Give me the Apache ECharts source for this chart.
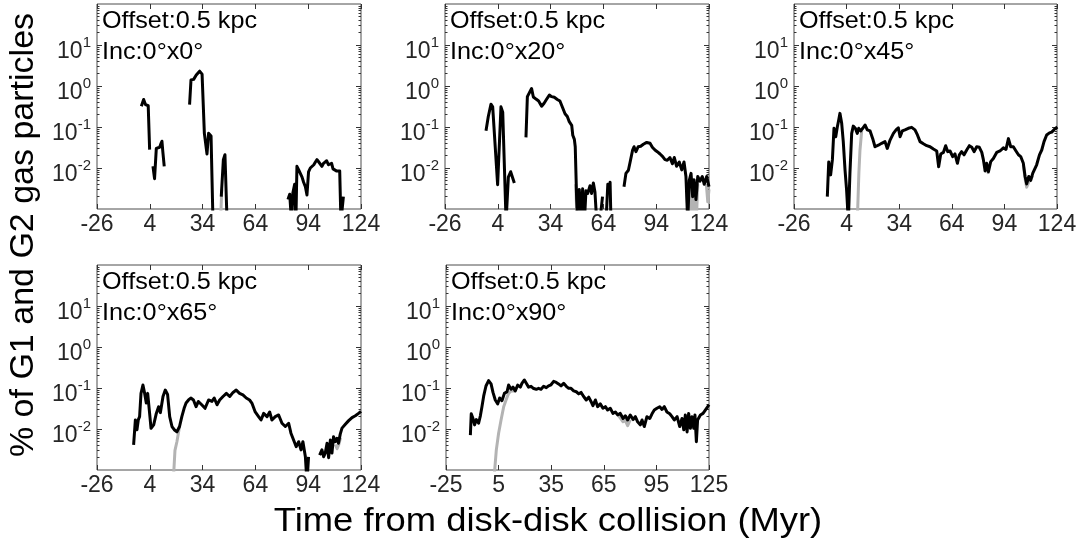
<!DOCTYPE html>
<html>
<head>
<meta charset="utf-8">
<script src="https://cdn.jsdelivr.net/npm/echarts@6/dist/echarts.min.js"></script>
<style>
html,body{margin:0;padding:0;background:#ffffff;}
#chart{width:1081px;height:543px;}
</style>
</head>
<body>
<div id="chart"></div>
<script>
// ---------------- data ----------------
const xTicksA = [-26, 4, 34, 64, 94, 124];
const xTicksB = [-25, 5, 35, 65, 95, 125];
const yMajorTicks = [0.01, 0.1, 1, 10];
const yMinorTicks = [0.002,0.003,0.004,0.005,0.006,0.007,0.008,0.009,
  0.02,0.03,0.04,0.05,0.06,0.07,0.08,0.09,
  0.2,0.3,0.4,0.5,0.6,0.7,0.8,0.9,
  2,3,4,5,6,7,8,9,
  20,30,40,50,60,70,80,90];
const offsetText = 'Offset:0.5 kpc';
const incTexts = ['Inc:0°x0°', 'Inc:0°x20°', 'Inc:0°x45°', 'Inc:0°x65°', 'Inc:0°x90°'];
const xTitle = 'Time from disk-disk collision (Myr)';
const yTitle = '% of G1 and G2 gas particles';

// [time (Myr), percent]; null = gap
const inc0Black = [
  [-0.8,0.32],[0.5,0.47],[1.6,0.35],[2.4,0.39],[3.1,0.33],[3.9,0.028], null,
  [5.8,0.011],[6.7,0.0055],[7.7,0.03],[8.6,0.027],[9.6,0.032],[10.4,0.04],[10.9,0.045],[11.4,0.025],[12.2,0.011], null,
  [26.6,0.35],[27.4,1.4],[28.9,1.45],[30.4,1.86],[32.3,2.3],[33.7,1.95],[35,0.07],[36.5,0.022],[37.4,0.07],[38.8,0.06],[39.9,0.0005], null,
  [44.6,0.002],[45.8,0.016],[46.7,0.021],[47.9,0.0005], null,
  [82.5,0.0017],[83.5,0.0023],[84.5,0.0005],[85.3,0.0025],[86.3,0.004],[87,0.0005],[87.6,0.011],[88.6,0.009],[89.6,0.01],
  [90.5,0.006],[91.4,0.0045],[92.4,0.0035],[93.3,0.0022],[94.2,0.008],[95.2,0.01],[96.2,0.011],[97.2,0.012],[98.1,0.014],
  [99,0.016],[100,0.014],[101,0.013],[101.8,0.011],[102.7,0.013],[103.6,0.012],[104.5,0.015],[105.5,0.012],[106.4,0.011],
  [107.3,0.013],[108.1,0.0095],[109,0.0105],[110,0.0085],[111,0.009],[111.9,0.0085],[112.6,0.0005],[114,0.002]
];
const inc0Gray = [
  [44.2,0.0005],[44.9,0.003]
];

const inc20Black = [
  [-2.7,0.081],[-1.4,0.18],[0.1,0.36],[1.1,0.31],[3.9,0.0039],[5.8,0.31],[6.8,0.23],[8.7,0.0005],[10,0.006],[11.3,0.0081],[12.2,0.0073],[13.4,0.0043], null,
  [20,0.056],[20.8,0.55],[21.9,0.57],[23.2,0.87],[24.2,0.54],[25.7,0.48],[27.2,0.43],[28.9,0.32],[30.3,0.38],[31.8,0.48],
  [33.3,0.6],[34.6,0.55],[36.1,0.53],[37.8,0.47],[39.3,0.43],[40.9,0.29],[42.2,0.21],[43.5,0.18],[44.6,0.135],[46,0.11],
  [46.6,0.063],[47.5,0.05],[48,0.033],[48.8,0.0017],[49.4,0.0005],[50.3,0.003],[51.3,0.0005],[52.2,0.0031],[53.2,0.0005],
  [54.1,0.0028],[55.1,0.0024],[56.4,0.0037],[57.3,0.0024],[58.3,0.0043],[59.2,0.0026],[60.2,0.0005], null,
  [62,0.0005],[63.5,0.002], null,
  [65.5,0.0005],[66.5,0.004],[67.2,0.0025],[67.8,0.0045],[68.3,0.0005], null,
  [75.7,0.0035],[76.8,0.0074],[78.2,0.0088],[79.1,0.0134],[80.1,0.013],[80.6,0.0275],[81.4,0.033],[82.5,0.025],[83.8,0.033],
  [85.2,0.034],[86.7,0.038],[88.6,0.042],[90.5,0.04],[91.8,0.032],[93.3,0.0275],[94.6,0.025],[96.2,0.022],[97.7,0.019],
  [99,0.016],[100.3,0.0155],[101.8,0.018],[103.2,0.0127],[104.3,0.018],[105.6,0.011],[107.1,0.014],[108.5,0.009],[109.8,0.014],
  [110.9,0.0062],[111.9,0.0005],[112.8,0.005],[113.8,0.0074],[114.7,0.002],[115.5,0.0052],[116.6,0.0017],[117.6,0.0062],
  [118.9,0.0048],[120.2,0.0062],[121.3,0.004],[122.7,0.0062],[124,0.0035]
];
const inc20Gray = [
  [48.3,0.004],[49,0.0005], null,
  [111.2,0.004],[112.3,0.0005],[113.3,0.003],[114.8,0.0005],[115.8,0.003],[116.8,0.0005],[117.6,0.004], null,
  [122.5,0.004],[123.3,0.0015],[124,0.003]
];

const inc45Black = [
  [-7,0.002],[-6.2,0.014],[-5.1,0.0068],[-4.1,0.016],[-3.2,0.093],[-2.2,0.058],[-1.3,0.1],[-0.5,0.148],[0.2,0.215],[1.2,0.123],
  [2.1,0.044],[3.1,0.009],[4,0.0029],[5,0.0005],[5.9,0.0075],[6.9,0.07],[7.8,0.105],[9,0.093],[10.1,0.07],[10.9,0.093],[12,0.08],
  [13.2,0.093],[14.5,0.112],[15.8,0.085],[17.4,0.08],[18.9,0.052],[20.2,0.033],[22.1,0.036],[24,0.04],[25.9,0.044],[27.2,0.03],
  [28.8,0.048],[30.7,0.07],[32.2,0.085],[33.5,0.096],[34.5,0.058],[35.8,0.08],[37.3,0.085],[39.2,0.093],[41.1,0.098],[43,0.085],
  [44.4,0.064],[45.9,0.044],[47.8,0.039],[49.7,0.035],[51.6,0.033],[53.5,0.029],[55.4,0.026],[56.5,0.0107],[57.7,0.022],[59.2,0.024],
  [60.5,0.035],[61.7,0.025],[63,0.026],[64.5,0.019],[65.8,0.022],[67.2,0.013],[68.3,0.021],[69.6,0.025],[71,0.021],[72.5,0.0275],
  [74,0.035],[75.4,0.032],[76.7,0.025],[78.2,0.033],[79.7,0.032],[81.1,0.024],[82,0.016],[83,0.0085],[83.9,0.013],[84.9,0.0081],
  [86.2,0.0143],[87.7,0.017],[89.6,0.024],[91.5,0.026],[93.4,0.031],[94.9,0.0285],[96.3,0.052],[97.6,0.033],[99.1,0.033],
  [100.6,0.026],[102,0.021],[103.3,0.019],[104.8,0.013],[105.8,0.0062],[106.7,0.0041],[107.9,0.0062],[109,0.005],[110.2,0.0075],
  [111.1,0.0068],[112.4,0.012],[114,0.021],[115.3,0.0275],[116.6,0.044],[118.1,0.064],[119.7,0.072],[121,0.075],[122.3,0.086],[124.2,0.1]
];
const inc45Gray = [
  [10.1,0.0005],[11,0.0075],[11.6,0.026],[12.6,0.08], null,
  [82.8,0.008],[83.9,0.011],[84.9,0.0072], null,
  [104.8,0.012],[105.8,0.0055],[106.7,0.0034],[107.9,0.0045],[109,0.0042],[110.2,0.0065]
];

const inc65Black = [
  [-5.2,0.0041],[-4.2,0.0166],[-3.3,0.0096],[-2.5,0.017],[-1.8,0.02],[-1,0.074],[0.1,0.118],[0.9,0.081],[2,0.043],[2.8,0.074],
  [3.9,0.024],[4.7,0.0104],[6.2,0.0126],[7.7,0.024],[9,0.035],[10,0.025],[11.5,0.062],[12.8,0.089],[14.1,0.07],[15.3,0.02],
  [16.6,0.0115],[17.9,0.0096],[19.4,0.0085],[20.9,0.0115],[22.2,0.02],[23.5,0.032],[24.6,0.043],[26,0.051],[27.3,0.057],
  [28.8,0.051],[30.3,0.035],[31.6,0.047],[33.5,0.039],[35.4,0.032],[37.4,0.051],[39.3,0.047],[40.6,0.057],[42.2,0.039],
  [43.7,0.051],[45.6,0.062],[47.5,0.074],[49.4,0.062],[51.3,0.078],[53.1,0.089],[55,0.074],[56.9,0.068],[58.8,0.057],
  [60.7,0.051],[62,0.043],[63.9,0.026],[65.8,0.02],[67.2,0.0166],[68.7,0.024],[70.6,0.02],[72.1,0.026],[73.4,0.0166],
  [75.3,0.02],[77.2,0.022],[79.1,0.0138],[81,0.0115],[82.9,0.0138],[84.2,0.0079],[85.7,0.0054],[87.2,0.0037],[88.6,0.0049],
  [89.9,0.0031],[91,0.0049],[92.4,0.0021],[93.3,0.0005],[94.2,0.0021], null,
  [100.5,0.0023],[101.8,0.0031],[102.8,0.0021],[103.7,0.0026],[104.7,0.0045],[105.6,0.002],[106.6,0.0054],[107.5,0.0026],
  [108.4,0.0065],[109.4,0.0049],[110.3,0.0059],[111.2,0.0045],[112.2,0.0075],[113.2,0.0105],[115.1,0.013],[117,0.016],
  [118.9,0.019],[120.8,0.021],[122.6,0.024],[124,0.027]
];
const inc65Gray = [
  [17.3,0.0005],[18.3,0.003],[19.4,0.0049],[20.9,0.0115], null,
  [109.4,0.0042],[110.4,0.0033],[111.4,0.0042],[112.4,0.0062]
];

const inc90Black = [
  [-11.1,0.0071],[-10.6,0.0235],[-9.6,0.018],[-8.7,0.0126],[-7.7,0.017],[-6.4,0.0138],[-5.4,0.021],[-4.5,0.035],[-3.5,0.064],
  [-2.2,0.112],[-0.7,0.151],[0.7,0.126],[1.8,0.078],[3.1,0.051],[4.5,0.041],[5.6,0.057],[6.9,0.049],[8.3,0.074],[9.8,0.081],
  [10.7,0.118],[12.1,0.093],[13.2,0.105],[14.5,0.085],[15.9,0.118],[17.4,0.105],[18.3,0.13],[19.7,0.157],[20.8,0.13],[22.1,0.105],
  [23.5,0.11],[25,0.097],[26.5,0.093],[27.8,0.098],[29.2,0.093],[30.7,0.11],[32.2,0.102],[33.5,0.113],[34.9,0.12],[36.4,0.145],
  [37.9,0.137],[39.2,0.126],[40.6,0.113],[42.1,0.13],[43.6,0.11],[45,0.098],[46.3,0.098],[47.8,0.085],[49.3,0.081],[50.7,0.072],
  [52,0.078],[53.5,0.062],[55,0.051],[56.4,0.06],[57.7,0.047],[58.8,0.037],[60.2,0.051],[61.5,0.035],[63,0.041],[64.5,0.032],
  [65.9,0.035],[67.2,0.029],[68.7,0.032],[70.2,0.024],[71.6,0.026],[72.9,0.022],[74.4,0.024],[76,0.018],[77.3,0.021],[78.6,0.0166],
  [80.1,0.022],[81.7,0.017],[83,0.02],[84.3,0.015],[85.8,0.0126],[86.8,0.0166],[88.1,0.0115],[89.6,0.02],[91.2,0.018],[92.5,0.0235],
  [93.8,0.029],[95.3,0.032],[96.9,0.035],[98.2,0.03],[99.5,0.035],[101,0.026],[102.6,0.0235],[103.9,0.02],[105.2,0.0166],[106.8,0.02],
  [108.3,0.0115],[109.6,0.018],[110.6,0.0096],[111.5,0.022],[112.5,0.0085],[113.4,0.024],[114.4,0.0104],[115.3,0.02],[116.3,0.0104],
  [117,0.022],[117.8,0.0049],[118.5,0.0166],[120.1,0.022],[121.6,0.024],[122.9,0.029],[125,0.039]
];
const inc90Gray = [
  [2.2,0.0005],[3.7,0.0031],[5,0.0079],[6.4,0.0166],[7.9,0.035],[9.4,0.053],[10.7,0.074],[12.1,0.085],[13.2,0.095],[14.5,0.085], null,
  [73.5,0.021],[74.4,0.02],[76,0.015],[77.3,0.016],[78.6,0.012],[80.1,0.017]
];

// ---------------- layout / styling ----------------
const FONT = '"Liberation Sans", Arial, Helvetica, sans-serif';
const panels = [
  {left: 97,  top: 4,   w: 264, h: 205, ticks: xTicksA, black: inc0Black,  gray: inc0Gray},
  {left: 445, top: 4,   w: 264, h: 205, ticks: xTicksA, black: inc20Black, gray: inc20Gray},
  {left: 794, top: 4,   w: 263, h: 205, ticks: xTicksA, black: inc45Black, gray: inc45Gray},
  {left: 97,  top: 265, w: 264, h: 205, ticks: xTicksA, black: inc65Black, gray: inc65Gray},
  {left: 446, top: 265, w: 263, h: 205, ticks: xTicksB, black: inc90Black, gray: inc90Gray}
];

function toData(arr) {
  return arr.map(p => p === null ? ['-', '-'] : p);
}

const tickColor = '#333333';
const labelColor = '#262626';
const grid = [], xAxis = [], yAxis = [], series = [], graphic = [];

panels.forEach((p, i) => {
  grid.push({left: p.left, top: p.top, width: p.w, height: p.h, show: true,
    borderColor: '#4d4d4d', borderWidth: 1, backgroundColor: '#ffffff'});
  const xmin = p.ticks[0], xmax = p.ticks[p.ticks.length - 1];
  const majorTick = (vals) => ({show: true, inside: true, length: 5, customValues: vals,
    lineStyle: {color: tickColor, width: 1}});
  const minorTick = (vals) => ({show: true, inside: true, length: 2.5, customValues: vals,
    lineStyle: {color: tickColor, width: 1}});
  // bottom x
  xAxis.push({gridIndex: i, type: 'value', min: xmin, max: xmax, position: 'bottom',
    axisLine: {show: false, onZero: false}, splitLine: {show: false},
    axisTick: majorTick(p.ticks),
    axisLabel: {customValues: p.ticks, fontSize: 23, color: labelColor, fontFamily: FONT, margin: 4,
      formatter: v => String(v)}});
  // top mirror x
  xAxis.push({gridIndex: i, type: 'value', min: xmin, max: xmax, position: 'top',
    axisLine: {show: false, onZero: false}, splitLine: {show: false},
    axisTick: majorTick(p.ticks), axisLabel: {show: false}});
  // left log y
  yAxis.push({gridIndex: i, type: 'log', logBase: 10, min: 0.001, max: 100, position: 'left',
    axisLine: {show: false, onZero: false}, splitLine: {show: false},
    axisTick: majorTick(yMajorTicks),
    axisLabel: {customValues: yMajorTicks, margin: 6, padding: [8, 0, 0, 0],
      formatter: v => '{b|10}{s|' + Math.round(Math.log10(v)) + '}',
      rich: {
        b: {fontSize: 23, lineHeight: 28, verticalAlign: 'bottom', fontFamily: FONT, color: labelColor},
        s: {fontSize: 15, lineHeight: 14, verticalAlign: 'top', fontFamily: FONT, color: labelColor}
      }}});
  // right mirror y
  yAxis.push({gridIndex: i, type: 'log', logBase: 10, min: 0.001, max: 100, position: 'right',
    axisLine: {show: false, onZero: false}, splitLine: {show: false},
    axisTick: majorTick(yMajorTicks), axisLabel: {show: false}});
  // minor ticks left / right
  yAxis.push({gridIndex: i, type: 'log', logBase: 10, min: 0.001, max: 100, position: 'left',
    axisLine: {show: false, onZero: false}, splitLine: {show: false},
    axisTick: minorTick(yMinorTicks), axisLabel: {show: false}});
  yAxis.push({gridIndex: i, type: 'log', logBase: 10, min: 0.001, max: 100, position: 'right',
    axisLine: {show: false, onZero: false}, splitLine: {show: false},
    axisTick: minorTick(yMinorTicks), axisLabel: {show: false}});

  series.push({type: 'line', xAxisIndex: 2 * i, yAxisIndex: 4 * i, data: toData(p.gray),
    showSymbol: false, symbol: 'none', connectNulls: false, silent: true, z: 2,
    lineStyle: {color: '#b3b3b3', width: 3, join: 'round'}});
  series.push({type: 'line', xAxisIndex: 2 * i, yAxisIndex: 4 * i, data: toData(p.black),
    showSymbol: false, symbol: 'none', connectNulls: false, silent: true, z: 3,
    lineStyle: {color: '#000000', width: 3, join: 'round'}});

  graphic.push({type: 'text', x: p.left + 5, y: p.top + 2, z: 10, scaleX: 1.05,
    style: {text: offsetText + '\n' + incTexts[i], fontSize: 24, lineHeight: 31,
      fontFamily: FONT, fill: '#000000', textAlign: 'left', textVerticalAlign: 'top'}});
});

graphic.push({type: 'text', x: 548, y: 522, scaleX: 1.07,
  style: {text: xTitle, fontSize: 34, fontFamily: FONT, fill: '#000000', textAlign: 'center', textVerticalAlign: 'middle'}});
graphic.push({type: 'text', x: 24, y: 235, rotation: Math.PI / 2,
  style: {text: yTitle, fontSize: 34, fontFamily: FONT, fill: '#000000', textAlign: 'center', textVerticalAlign: 'middle'}});

const chart = echarts.init(document.getElementById('chart'), null, {renderer: 'canvas'});
chart.setOption({
  animation: false,
  backgroundColor: '#ffffff',
  grid: grid, xAxis: xAxis, yAxis: yAxis, series: series, graphic: graphic
});
</script>
</body>
</html>
